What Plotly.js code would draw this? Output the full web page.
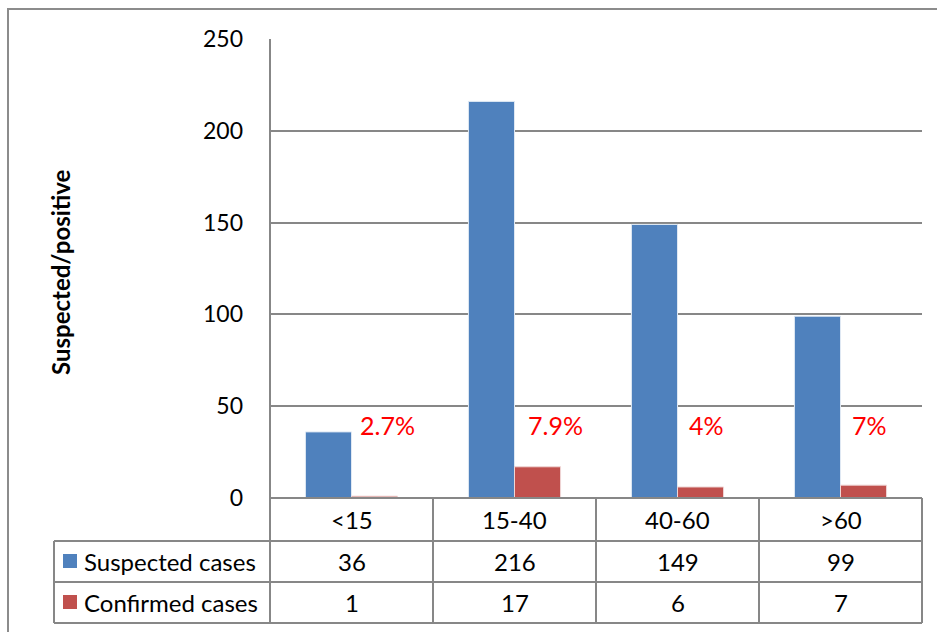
<!DOCTYPE html>
<html>
<head>
<meta charset="utf-8">
<script src="https://cdn.plot.ly/plotly-3.0.1.min.js"></script>
<style>html,body{margin:0;padding:0;background:#fff;}#chart{width:937px;height:632px;}</style>
</head>
<body>
<div id="chart"></div>
<script>
const categories = ["<15", "15-40", "40-60", ">60"];
const suspected = [36, 216, 149, 99];
const confirmed = [1, 17, 6, 7];
const percentLabels = ["2.7%", "7.9%", "4%", "7%"];
const seriesNames = ["Suspected cases", "Confirmed cases"];
const yTickValues = [0, 50, 100, 150, 200, 250];

const FONT = "Lato, 'Open Sans', sans-serif";
const GRID = "#878787";
const BLUE = "#4F81BD";
const RED = "#C0504D";

// pixel geometry helpers (plot area: x 270..922, y 39..498)
const L = 270, R = 922, T = 39, B = 498;
const px = x => (x - L) / (R - L);
const py = y => (B - y) / (B - T);

const rowTop = [498, 541, 582];
const rowBot = [541, 582, 623];
const rowCenter = rowTop.map((t, i) => py((t + rowBot[i]) / 2));
const pctOffsets = [0.22, 0.25, 0.175, 0.18];

const traces = [
  {type: "bar", name: seriesNames[0], x: categories, y: suspected,
   marker: {color: BLUE, line: {color: "#dfe8f3", width: 1}}, hoverinfo: "skip"},
  {type: "bar", name: seriesNames[1], x: categories, y: confirmed,
   marker: {color: RED, line: {color: "#efd6d5", width: 1}}, hoverinfo: "skip"}
];

const shapes = [];
const line = (x0, y0, x1, y1) => shapes.push({type: "line", xref: "paper", yref: "paper",
  x0: px(x0), y0: py(y0), x1: px(x1), y1: py(y1), line: {color: GRID, width: 2}, layer: "above"});
// outer chart border
shapes.push({type: "rect", xref: "paper", yref: "paper", x0: px(8), y0: py(9), x1: px(945), y1: py(645),
  line: {color: "#8c8c8c", width: 2}, layer: "below"});
// table grid
line(270, 498, 922, 498);
line(54, 541, 922, 541);
line(54, 582, 922, 582);
line(54, 623, 922, 623);
line(54, 541, 54, 623);
line(270, 39, 270, 623);
[433, 596, 759, 922].forEach(x => line(x, 498, x, 623));
// legend keys
shapes.push({type: "rect", xref: "paper", yref: "paper", x0: px(63), x1: px(77), y0: py(554), y1: py(568),
  fillcolor: BLUE, line: {width: 0}});
shapes.push({type: "rect", xref: "paper", yref: "paper", x0: px(63), x1: px(77), y0: py(595), y1: py(609),
  fillcolor: RED, line: {width: 0}});

const annotations = [];
const tfont = {family: FONT, size: 24, color: "#000"};
const cell = (x, xref, y, text, extra) => annotations.push(Object.assign({xref: xref, yref: "paper", x: x, y: y,
  text: text, showarrow: false, xanchor: "center", yanchor: "middle", font: tfont}, extra || {}));
categories.forEach((c, i) => {
  cell(i, "x", rowCenter[0], c);
  cell(i, "x", rowCenter[1], String(suspected[i]));
  cell(i, "x", rowCenter[2], String(confirmed[i]));
  annotations.push({xref: "x", yref: "y", x: i + pctOffsets[i], y: 40, text: percentLabels[i], showarrow: false,
    xanchor: "center", yanchor: "middle", font: {family: FONT, size: 25, color: "#FF0000"}});
});
seriesNames.forEach((n, k) => cell(px(82), "paper", rowCenter[k + 1], n, {xanchor: "left"}));
// y-axis title
annotations.push({xref: "paper", yref: "paper", x: px(60), y: py(272), text: "<b>Suspected/positive</b>",
  textangle: -90, showarrow: false, xanchor: "center", yanchor: "middle",
  font: {family: FONT, size: 24, color: "#000"}});

const layout = {
  width: 937, height: 632,
  margin: {l: L, r: 937 - R, t: T, b: 632 - B, pad: 0},
  paper_bgcolor: "#fff", plot_bgcolor: "#fff",
  showlegend: false,
  barmode: "group", bargap: 0.435, bargroupgap: 0,
  font: {family: FONT, color: "#000"},
  xaxis: {type: "category", showticklabels: false, showgrid: false, zeroline: false, showline: false,
    ticks: "", range: [-0.5, 3.5], fixedrange: true},
  yaxis: {range: [0, 250], tickvals: yTickValues, showgrid: true, gridcolor: GRID, gridwidth: 2,
    zeroline: false, showline: false, ticks: "", ticklabelstandoff: 26,
    tickfont: {family: FONT, size: 23, color: "#000"}, fixedrange: true},
  shapes: shapes,
  annotations: annotations
};

Plotly.newPlot("chart", traces, layout, {displayModeBar: false, staticPlot: true});
</script>
</body>
</html>
